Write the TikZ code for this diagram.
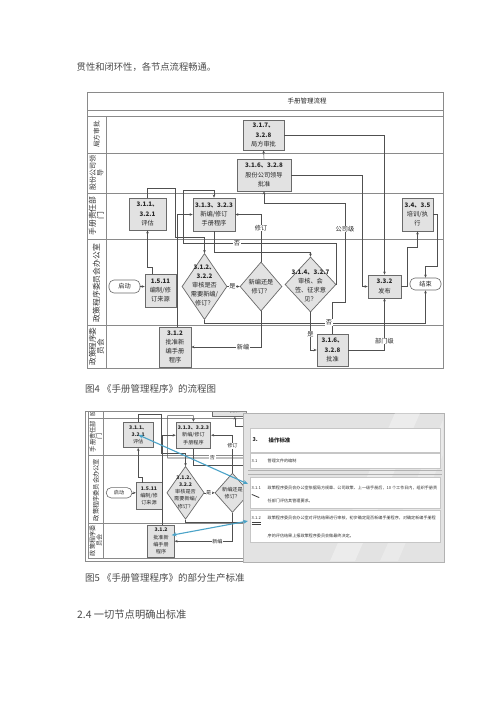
\documentclass[tikz,border=0pt]{standalone}
\usepackage{fontspec}
\setmainfont{Noto Sans CJK SC}
\usetikzlibrary{arrows.meta,shapes.geometric,calc}
\definecolor{txt}{HTML}{4A4A4A}
\definecolor{ln}{HTML}{505050}
\definecolor{boxfill}{HTML}{E2E2E2}
\definecolor{boxdraw}{HTML}{6A6A6A}
\definecolor{frame}{HTML}{8A8A8A}
\definecolor{arrblue}{HTML}{4AA3C8}
\tikzset{
 fbox/.style={draw=boxdraw, fill=boxfill, line width=0.7pt, inner sep=0.5pt, align=center, font=\fontsize{6.2}{9.2}\selectfont, text=black!85},
 term/.style={draw=boxdraw, fill=white, rounded corners=5pt, line width=0.6pt, inner sep=0pt, font=\fontsize{6.2}{8}\selectfont, text=black!85},
 dia/.style={draw=boxdraw, fill=boxfill, diamond, line width=0.7pt, inner sep=0pt},
 dtxt/.style={align=center, inner sep=0pt, font=\fontsize{6.2}{9}\selectfont, text=black!85},
 conn/.style={draw=ln, line width=0.55pt, -{Stealth[length=3pt,width=2.6pt]}},
 lab/.style={fill=white, inner sep=0.6pt, font=\fontsize{6.2}{7}\selectfont, text=black!85},
 lanel/.style={rotate=90, align=center, inner sep=0pt, text=black!80},
 frm/.style={draw=frame, line width=0.6pt},
 docrow/.style={draw=gray!45, fill=white, line width=0.4pt, minimum width=190pt, inner sep=0pt},
 small/.style={font=\fontsize{4.1}{5}\selectfont, inner sep=0pt, anchor=west, text=black!80},
 barr/.style={draw=arrblue, line width=1.1pt, {Stealth[length=5pt,width=4pt]}-{Stealth[length=5pt,width=4pt]}},
 ptxt/.style={anchor=west, inner sep=0pt, text=txt},
}
% \rt wraps texts that are hidden in the cropped copy of figure 5
\newcommand{\rt}[1]{#1}
\newcommand{\myflow}{%
 \fill[white] (87,92) rectangle (443,368);
 \draw[frm] (87,92) rectangle (443,368);
 \draw[frm] (87,110) -- (443,110);
 \draw[frm] (87,116) -- (443,116);
 \draw[frm] (87,153) -- (443,153);
 \draw[frm] (87,193) -- (443,193);
 \draw[frm] (87,239) -- (443,239);
 \draw[frm] (87,325) -- (443,325);
 \draw[frm] (106,116) -- (106,368);
 \node[font=\fontsize{6.5}{8}\selectfont, text=black!85] (title) at (307,101) {\rt{手册管理流程}};
 \node[lanel, font=\fontsize{6.6}{7.5}\selectfont] (ln1) at (96.5,134.5) {\rt{局方审批}};
 \node[lanel, font=\fontsize{7}{7.5}\selectfont] (ln2) at (96.5,173) {股份公司领\\导};
 \node[lanel, font=\fontsize{7.8}{8}\selectfont] (ln3) at (96.5,216) {手册责任部\\门};
 \node[lanel, font=\fontsize{7.8}{8}\selectfont] (ln4) at (96.5,283) {政策程序委员会办公室};
 \node[lanel, font=\fontsize{7.6}{8}\selectfont] (ln5) at (96.5,346.5) {政策程序委\\员会};
 % nodes
 \node[fbox, minimum width=41pt, minimum height=30pt] (jf) at (263.5,135) {\rt{\textbf{3.1.7、}\\\textbf{3.2.8}\\局方审批}};
 \node[fbox, minimum width=54pt, minimum height=32pt] (gf) at (264,175) {\textbf{3.1.6、3.2.8}\\股份公司领导\\批准};
 \node[fbox, minimum width=37pt, minimum height=32pt] (pg) at (147.5,214) {\textbf{3.1.1、}\\\textbf{3.2.1}\\评估};
 \node[fbox, minimum width=42pt, minimum height=33pt] (xb) at (214,214.5) {\textbf{3.1.3、3.2.3}\\新编/修订\\手册程序};
 \node[fbox, minimum width=31pt, minimum height=33pt] (px) at (417.5,214.5) {\rt{\textbf{3.4、3.5}\\培训/执\\行}};
 \node[term, minimum width=31pt, minimum height=13pt] (qd) at (124.5,286.5) {启动};
 \node[fbox, minimum width=31pt, minimum height=33pt] (bz) at (160.5,290.5) {\textbf{1.5.11}\\编制/修\\订来源};
 \node[dia, minimum width=45pt, minimum height=66pt] (d1) at (204.5,286.5) {};
 \node[dtxt] (d1t) at (204.5,285.5) {\textbf{3.1.2、}\\\textbf{3.2.2}\\审核是否\\需要新编/\\修订？};
 \node[dia, minimum width=42pt, minimum height=49pt] (d2) at (261,286.5) {};
 \node[dtxt] (d2t) at (261,287) {新编还是\\修订？};
 \node[dia, minimum width=51pt, minimum height=55pt] (d3) at (310.5,284.5) {};
 \node[dtxt] (d3t) at (310.5,285.5) {\rt{\textbf{3.1.4、3.2.7}\\审核、会\\签、征求意\\见？}};
 \node[fbox, minimum width=33pt, minimum height=23pt] (fb) at (384.5,286.5) {\rt{\textbf{3.3.2}\\发布}};
 \node[term, minimum width=31pt, minimum height=12pt] (js) at (425.5,284) {\rt{结束}};
 \node[fbox, minimum width=32pt, minimum height=40pt] (pz1) at (175,347) {\textbf{3.1.2}\\批准新\\编手册\\程序};
 \node[fbox, minimum width=31pt, minimum height=32pt] (pz2) at (332.5,350) {\rt{\textbf{3.1.6、}\\\textbf{3.2.8}\\批准}};
 % connectors
 \draw[conn] (qd.east) -- (qd.east -| bz.west);
 \draw[conn] ([xshift=-8pt]bz.north) -- ++(0,-6) -| (pg.south);
 \draw[conn] (pg.north) -- ++(0,-9) -| (175,237) -| (d1.north);
 \draw[conn] (d1.east) -- (d2.west);
 \node[lab] (lshi1) at (232.5,286.5) {是};
 \draw[conn] (d2.north) |- (xb.east);
 \node[lab] (lxd) at (261,228) {修订};
 \draw[conn] (d2.south) |- (pz1.east);
 \node[lab] (lxb) at (243,347) {新编};
 \draw[conn] ([xshift=2pt]pz1.north) |- (xb.west);
 \draw[conn] (xb.south) -- ++(0,21) -| (d3.north);
 \draw[conn] (d3.east) |- (183,243) |- (214,190) -- (xb.north);
 \node[lab] (lf1) at (237,243) {否};
 \draw[conn] (d3.south) |- (pz2.west);
 \node[lab] (ls2) at (310.5,334) {\rt{是}};
 \draw[conn] (pz2.east) -| (fb.south);
 \node[lab] (lbm) at (384.5,341) {\rt{部门级}};
 \draw[conn] (pz2.north) -- ++(0,-31) -| (345,203) -| (gf.south);
 \node[lab] (lgs) at (345,229) {\rt{公司级}};
 \draw[conn] (gf.north) -- (jf.south);
 \draw[conn] (jf.east) -| (fb.north);
 \draw[conn] (gf.east) -| (362,286.5) -- (fb.west);
 \draw[conn] (fb.east) -| (407,247) -| (px.south);
 \draw[conn] (px.east) -| (437,266) -| (js.north);
 \draw[conn] (d1.south) -- ++(0,3) -| (js.south);
 \node[lab] (lf2) at (329,322.5) {\rt{否}};
}
\begin{document}
\begin{tikzpicture}[x=1pt,y=-1pt]
\useasboundingbox (0,0) rectangle (500,707);
\fill[white] (0,0) rectangle (500,707);
% body text
\node[ptxt, font=\fontsize{9.3}{11}\selectfont] (p1) at (76.5,67) {贯性和闭环性，各节点流程畅通。};
% figure 4
\begin{scope}
 \myflow
\end{scope}
\node[ptxt, font=\fontsize{9.5}{11}\selectfont] (cap4) at (85,389) {图4 《手册管理程序》的流程图};
% figure 5: cropped flowchart
\begin{scope}
 \renewcommand{\rt}[1]{}
 \clip (85.5,411.5) rectangle (246,561);
 \fill[white] (85,411) rectangle (246,561);
 \begin{scope}[name prefix=f5-, shift={(15.79,263.6)}, xscale=0.83, yscale=0.8, transform shape]
  \myflow
 \end{scope}
\end{scope}
\draw[frm] (85.5,411.5) rectangle (246,561);
% document panel
\node[draw=gray!60, fill=gray!22, minimum width=201pt, minimum height=149pt, inner sep=0pt] (panel) at (343.5,487.5) {};
\fill[white, opacity=0.35] (330,561) -- (395,413) -- (420,413) -- (355,561) -- cycle;
\fill[white, opacity=0.25] (380,561) -- (443,420) -- (443,455) -- (398,561) -- cycle;
\node[docrow, minimum height=24pt] (r3) at (345,440) {};
\node[docrow, minimum height=15pt] (r31) at (345,460.5) {};
\draw[gray!60, line width=0.4pt] (248,470.5) -- (442,470.5);
\draw[gray!60, line width=0.4pt] (248,474) -- (442,474);
\node[docrow, minimum height=31pt] (r311) at (345,492.5) {};
\node[docrow, minimum height=32pt] (r312) at (345,526) {};
\node[ptxt, font=\bfseries\fontsize{5.4}{6}\selectfont, text=black!85] (t3n) at (252.5,440) {3.};
\node[ptxt, font=\bfseries\fontsize{5.4}{6}\selectfont, text=black!85] (t3) at (268.5,440) {操作标准};
\node[small] (t31n) at (251.5,461) {3.1};
\node[small] (t31) at (267.5,461) {管理文件的编制};
\node[small] (t311n) at (251.5,488.3) {3.1.1};
\node[small] (t311a) at (267.5,488.3) {政策程序委员会办公室依据局方规章、公司政策、上一级手册后，10 个工作日内，组织手册责};
\node[small] (t311b) at (267.5,501) {任部门评估其管理要求。};
\node[small] (t312n) at (251.5,518.3) {3.1.2};
\node[small] (t312a) at (267.5,518.3) {政策程序委员会办公室对评估结果进行审核，初步确定是否新编手册程序，对确定新编手册程};
\node[small] (t312b) at (267.5,536) {序的评估结果上报政策程序委员会做最终决定。};
\draw[black!75, line width=0.5pt] (251.5,522.5) -- (260.5,522.5);
\draw[black!75, line width=0.5pt] (251.5,524) -- (260.5,524);
\draw[black!75, line width=0.8pt, line cap=round] (252,494.5) -- (259,497.5);
% blue arrows
\coordinate (bA) at (248,484);
\coordinate (bB) at (248,521);
\draw[barr] (f5-pg.center) -- (bA);
\draw[barr] (bB) -- ([xshift=-3pt,yshift=6pt]f5-pz1.east);
\node[ptxt, font=\fontsize{9.5}{11}\selectfont] (cap5) at (85,578) {图5 《手册管理程序》的部分生产标准};
\node[ptxt, font=\fontsize{10.3}{12}\selectfont] (h24) at (77,615) {2.4 一切节点明确出标准};
\end{tikzpicture}
\end{document}
